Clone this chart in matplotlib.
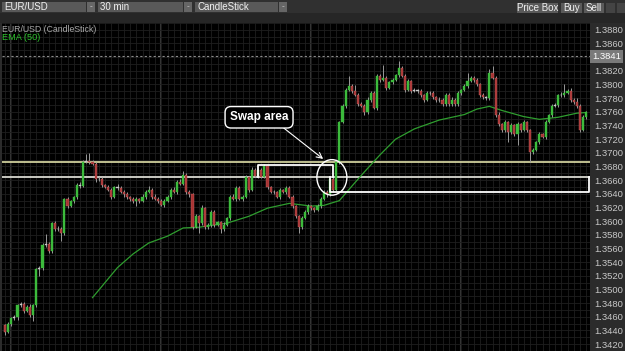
import numpy as np
import matplotlib.pyplot as plt
import matplotlib.patches as patches
import matplotlib.transforms as mtransforms

plt.rcParams['font.family'] = ['Liberation Sans', 'DejaVu Sans']

# EUR/USD 30 min candles, Oct 10 - Oct 13 (open of each bar = previous close)
first_open = 1.3448
closes = [
    1.3438, 1.3449, 1.3458, 1.3459, 1.3477, 1.3478, 1.3469, 1.3475, 1.3462, 1.3477,
    1.3530, 1.3531, 1.3565, 1.3566, 1.3556, 1.3597, 1.3588, 1.3589, 1.3582, 1.3632,
    1.3622, 1.3629, 1.3635, 1.3653, 1.3652, 1.3687, 1.3688, 1.3686, 1.3684, 1.3661,
    1.3662, 1.3653, 1.3650, 1.3646, 1.3636, 1.3650, 1.3649, 1.3643, 1.3639, 1.3635,
    1.3633, 1.3629, 1.3632, 1.3630, 1.3636, 1.3643, 1.3646, 1.3636, 1.3633, 1.3629,
    1.3624, 1.3630, 1.3636, 1.3646, 1.3643, 1.3658, 1.3655, 1.3668, 1.3643, 1.3639,
    1.3592, 1.3607, 1.3597, 1.3619, 1.3592, 1.3594, 1.3614, 1.3595, 1.3598, 1.3588,
    1.3595, 1.3604, 1.3636, 1.3633, 1.3649, 1.3633, 1.3636, 1.3664, 1.3646, 1.3675,
    1.3666, 1.3675, 1.3665, 1.3680, 1.3650, 1.3643, 1.3642, 1.3636, 1.3645, 1.3643,
    1.3649, 1.3636, 1.3622, 1.3607, 1.3592, 1.3605, 1.3614, 1.3622, 1.3619, 1.3617,
    1.3622, 1.3633, 1.3643, 1.3639, 1.3661, 1.3646, 1.3687, 1.3745, 1.3769, 1.3792,
    1.3798, 1.3791, 1.3785, 1.3771, 1.3769, 1.3759, 1.3778, 1.3788, 1.3766, 1.3813,
    1.3807, 1.3810, 1.3795, 1.3803, 1.3807, 1.3814, 1.3824, 1.3813, 1.3792, 1.3805,
    1.3791, 1.3792, 1.3791, 1.3784, 1.3778, 1.3788, 1.3787, 1.3781, 1.3777, 1.3778,
    1.3771, 1.3785, 1.3771, 1.3778, 1.3771, 1.3788, 1.3792, 1.3798, 1.3805, 1.3810,
    1.3807, 1.3800, 1.3785, 1.3781, 1.3780, 1.3817, 1.3810, 1.3756, 1.3742, 1.3733,
    1.3745, 1.3730, 1.3740, 1.3727, 1.3742, 1.3734, 1.3745, 1.3733, 1.3701, 1.3704,
    1.3716, 1.3727, 1.3723, 1.3745, 1.3755, 1.3769, 1.3770, 1.3784, 1.3785, 1.3788,
    1.3791, 1.3778, 1.3774, 1.3769, 1.3734, 1.3752, 1.3759,
]
# wick lengths in pips above / below the body
wick_up = [
    2, 3, 2, 3, 2, 4, 3, 2, 3, 2,
    2, 3, 3, 15, 3, 2, 3, 4, 2, 2,
    3, 2, 2, 3, 5, 2, 10, 12, 4, 2,
    3, 2, 2, 3, 2, 2, 4, 3, 2, 3,
    2, 3, 4, 2, 3, 2, 5, 2, 3, 2,
    3, 2, 2, 3, 4, 2, 3, 6, 2, 3,
    2, 3, 2, 4, 2, 3, 2, 3, 2, 2,
    3, 2, 2, 3, 2, 3, 2, 3, 2, 4,
    3, 2, 3, 3, 2, 2, 3, 2, 3, 2,
    2, 3, 2, 2, 2, 3, 2, 3, 2, 2,
    3, 2, 2, 3, 2, 3, 2, 2, 3, 3,
    14, 3, 8, 2, 3, 2, 3, 2, 3, 3,
    2, 18, 3, 2, 3, 2, 10, 3, 2, 3,
    2, 3, 2, 3, 2, 3, 2, 3, 2, 3,
    2, 3, 2, 3, 2, 3, 2, 3, 12, 3,
    2, 3, 2, 3, 2, 5, 10, 2, 3, 2,
    3, 2, 3, 2, 3, 2, 3, 2, 2, 3,
    2, 3, 2, 3, 2, 3, 3, 2, 4, 12,
    3, 4, 2, 6, 2, 3, 2,
]
wick_dn = [
    4, 2, 3, 2, 3, 2, 3, 2, 3, 8,
    2, 10, 2, 3, 2, 3, 2, 3, 11, 2,
    3, 2, 3, 2, 3, 2, 2, 3, 2, 3,
    2, 3, 2, 2, 3, 2, 3, 2, 3, 2,
    3, 2, 7, 3, 2, 3, 2, 3, 2, 3,
    2, 3, 2, 3, 2, 3, 2, 2, 3, 4,
    3, 2, 15, 3, 4, 3, 2, 3, 2, 6,
    3, 2, 3, 2, 3, 2, 3, 2, 3, 2,
    2, 3, 2, 2, 3, 2, 3, 2, 3, 2,
    3, 2, 3, 2, 10, 3, 2, 3, 2, 3,
    2, 3, 2, 3, 2, 3, 2, 3, 2, 3,
    2, 3, 2, 3, 2, 3, 2, 3, 2, 3,
    3, 2, 3, 2, 3, 2, 3, 2, 3, 2,
    3, 2, 3, 2, 3, 2, 3, 2, 3, 2,
    3, 2, 3, 2, 3, 2, 3, 2, 3, 2,
    3, 2, 3, 2, 3, 2, 2, 3, 3, 2,
    3, 14, 3, 2, 15, 3, 2, 3, 14, 3,
    2, 3, 2, 3, 2, 3, 2, 3, 2, 3,
    2, 3, 2, 3, 3, 2, 3,
]

# EMA (50) at a few bars
ema_idx = [28, 36, 41, 46, 52, 57, 62, 71, 78, 84, 91, 98, 102, 107, 110,
           115, 120, 125, 131, 139, 147, 151, 155, 159, 166, 171, 177, 183, 186]
ema_vals = [1.3488, 1.3532, 1.3552, 1.3568, 1.3578, 1.3590, 1.3591, 1.3597,
            1.3607, 1.3619, 1.3626, 1.3622, 1.3623, 1.3630, 1.3646, 1.3672,
            1.3697, 1.3720, 1.3735, 1.3748, 1.3756, 1.3764, 1.3768, 1.3762,
            1.3753, 1.3749, 1.3752, 1.3758, 1.3759]

day_labels = ["Oct 10", "Oct 11", "Oct 12", "Oct 13"]
day_starts = [2, 50, 98, 146]
price_ticks = [1.3420, 1.3440, 1.3460, 1.3480, 1.3500, 1.3520, 1.3540, 1.3560,
               1.3580, 1.3600, 1.3620, 1.3640, 1.3660, 1.3680, 1.3700, 1.3720,
               1.3740, 1.3760, 1.3780, 1.3800, 1.3820, 1.3840, 1.3860, 1.3880]
last_price = 1.3841

# drawn levels / swap zone
upper_level = 1.3687
lower_level = 1.3664
box_a = (81, 105, 1.3682)      # start bar, end bar, top
box_b = (104, 1.3643)          # start bar, bottom


def fig_rect(fig, x, y, w, h, color):
    # x, y in pixels from the top-left corner
    fig.add_artist(patches.Rectangle((x / 625, (351 - y - h) / 351), w / 625, h / 351,
                                     transform=fig.transFigure, fc=color, ec='none'))


def fig_text(fig, x, y, s, **kw):
    fig.text(x / 625, (351 - y) / 351, s, va='center', **kw)


def main():
    fig = plt.figure(figsize=(6.25, 3.51), dpi=100, facecolor='#2b2b2b')
    ax = fig.add_axes([2 / 625, 0, 588 / 625, 328 / 351], facecolor='black')

    c = np.array(closes)
    o = np.concatenate([[first_open], c[:-1]])
    x = np.arange(len(c))
    lo_body = np.minimum(o, c)
    hi_body = np.maximum(o, c)
    highs = hi_body + np.array(wick_up) / 10000
    lows = lo_body - np.array(wick_dn) / 10000
    heights = np.maximum(hi_body - lo_body, 0.00006)

    ax.set_xlim(-0.96, 187.2)
    ax.set_ylim(1.34099, 1.38852)

    # grid
    ax.set_xticks(np.arange(0, 188, 2))
    ax.set_yticks(np.arange(1.3410, 1.3890, 0.0010), minor=True)
    ax.grid(True, which='both', color='#1e1e1e', lw=0.6)
    ax.set_axisbelow(True)
    ax.tick_params(axis='x', length=0, labelbottom=False)
    for d in day_starts:
        ax.axvline(d - 0.5, color='#333333', lw=0.8, zorder=0.5)

    # right price scale
    ax.yaxis.tick_right()
    ax.set_yticks(price_ticks)
    ax.set_yticklabels(['' if abs(p - last_price) < 0.0005 else f'{p:.4f}' for p in price_ticks])
    ax.tick_params(axis='y', which='both', length=0, pad=3, labelsize=6.8, labelcolor='#c8c8c8')
    for s in ax.spines.values():
        s.set_visible(False)

    ax.axhline(last_price, color='#8c8c8c', lw=0.8, ls=(0, (2, 2)), zorder=1)
    ax.text(1 + 2 / 588, last_price, f'{last_price:.4f}', transform=mtransforms.blended_transform_factory(ax.transAxes, ax.transData),
            va='center', ha='left', color='white', fontsize=6.8, clip_on=False,
            bbox=dict(boxstyle='square,pad=0.25', fc='#7a7a7a', ec='none'))

    # levels
    ax.axhline(upper_level, color='#cfcf9c', lw=1.3, zorder=1)
    ax.axhline(lower_level, color='#d8d8d0', lw=1.3, zorder=1)

    # EMA
    ax.plot(ema_idx, ema_vals, color='#2f9e2f', lw=0.9, zorder=2)

    # candles
    ax.vlines(x, lows, highs, color='#9a9a9a', lw=0.7, zorder=3)
    doji = np.abs(c - o) < 0.00015
    up = (c > o) & ~doji
    dn = (c < o) & ~doji
    ax.bar(x[up], heights[up], bottom=lo_body[up], width=0.68, color='#3cbb3c',
           edgecolor='#3cbb3c', lw=0.3, zorder=4)
    ax.bar(x[dn], heights[dn], bottom=lo_body[dn], width=0.68, color='#a83232',
           edgecolor='#c86a6a', lw=0.3, zorder=4)
    ax.bar(x[doji], heights[doji], bottom=lo_body[doji], width=0.68, color='#c8c8c8',
           edgecolor='#c8c8c8', lw=0.3, zorder=4)

    # swap zone drawings
    a0, a1, a_top = box_a
    ax.plot([a0, a0, a1, a1], [lower_level, a_top, a_top, lower_level], color='white', lw=1.3, zorder=5)
    b0, b_bot = box_b
    ax.plot([b0, b0, 187.0, 187.0], [lower_level, b_bot, b_bot, lower_level], color='white', lw=1.3, zorder=5)
    ax.add_patch(patches.Ellipse((104.6, lower_level), 9.6, 0.0052, fill=False, ec='white', lw=1.0, zorder=6))
    ax.annotate('', xy=(101.8, 1.3691), xytext=(89.0, 1.3737),
                arrowprops=dict(arrowstyle='->', color='white', lw=0.8, shrinkA=0, shrinkB=0), zorder=6)
    ax.text(81.3, 1.3752, 'Swap area', ha='center', va='center', color='white', fontsize=8.5,
            fontweight='bold', zorder=7,
            bbox=dict(boxstyle='round,pad=0.4,rounding_size=0.5', fc='black', ec='white', lw=1.0))

    # legend text
    fig_text(fig, 2, 29, 'EUR/USD (CandleStick)', color='#a8a8a8', fontsize=6.3)
    fig_text(fig, 2, 37, 'EMA (50)', color='#2ec52e', fontsize=6.6)

    # header row with dates
    fig_rect(fig, 0, 13, 625, 10, '#262626')
    for d, lab in zip(day_starts, day_labels):
        ax.text(d - 0.5 + 1.2, 1 + 5 / 328, lab, transform=mtransforms.blended_transform_factory(ax.transData, ax.transAxes),
                va='center', ha='left', color='#c8c8c8', fontsize=6.6, clip_on=False)

    # toolbar
    fig_rect(fig, 0, 0, 625, 13, '#303030')
    for bx, bw, lab in [(2, 93, 'EUR/USD'), (98, 94, '30 min'), (195, 92, 'CandleStick')]:
        fig_rect(fig, bx, 2, bw - 9, 10, '#595959')
        fig_rect(fig, bx + bw - 8, 2, 8, 10, '#666666')
        fig_text(fig, bx + 2, 7, lab, color='#f0f0f0', fontsize=7)
        fig_text(fig, bx + bw - 4, 7, '-', color='#d0d0d0', fontsize=6, ha='center')
    for bx, bw, lab in [(517, 41, 'Price Box'), (561, 21, 'Buy'), (584, 20, 'Sell')]:
        fig_rect(fig, bx, 3, bw, 10, '#5a5a5a')
        fig_text(fig, bx + bw / 2, 8, lab, color='#f0f0f0', fontsize=7, ha='center')
    fig_rect(fig, 606, 3, 9, 10, '#444444')
    fig_rect(fig, 617, 3, 8, 10, '#444444')

    fig.savefig('out.png', dpi=100, facecolor=fig.get_facecolor())


if __name__ == "__main__":
    main()
